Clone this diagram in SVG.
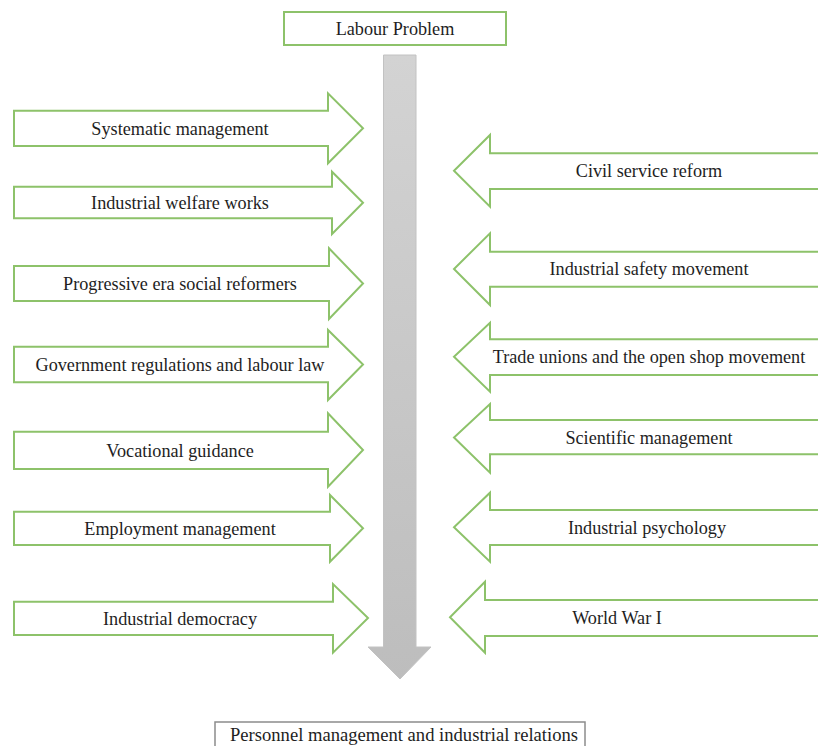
<svg xmlns="http://www.w3.org/2000/svg" width="818" height="746" viewBox="0 0 818 746">
  <defs>
    <linearGradient id="shaftFill" x1="0" y1="0" x2="0" y2="1">
      <stop offset="0" stop-color="#d3d3d3"/>
      <stop offset="1" stop-color="#bdbdbd"/>
    </linearGradient>
  </defs>
  <style>
    .box { fill: #ffffff; stroke: #8dc26a; stroke-width: 2; }
    .outbox { fill: #ffffff; stroke: #8c8c8c; stroke-width: 1.5; }
    .arrow { fill: #ffffff; stroke: #8dc26a; stroke-width: 2; stroke-linejoin: miter; }
    .lbl { font-family: "Liberation Serif", "Times New Roman", serif; font-size: 18.2px; fill: #1e1e1e; text-anchor: middle; }
    .big { font-size: 18.6px; }
  </style>
  <rect width="818" height="746" fill="#ffffff"/>

  <!-- main downward flow arrow -->
  <g id="connectors">
    <path d="M383.5,55 H416 V647 H431 L400,679 L368,647 H383.5 Z" fill="url(#shaftFill)" stroke="#c2c2c2" stroke-width="1"/>
  </g>

  <g id="labour-problem">
    <rect class="box" x="284" y="12" width="222" height="33"/>
    <text class="lbl" x="395" y="35">Labour Problem</text>
  </g>

  <!-- left-side influences, pointing right -->
  <g id="systematic-management">
    <path class="arrow" d="M14,110.7 H328 V93.3 L363,128.3 L328,163.3 V146 H14 Z"/>
    <text class="lbl" x="180" y="134.5">Systematic management</text>
  </g>
  <g id="industrial-welfare-works">
    <path class="arrow" d="M14,186.7 H332 V171.7 L363,202.7 L332,234 V218.3 H14 Z"/>
    <text class="lbl" x="180" y="208.5">Industrial welfare works</text>
  </g>
  <g id="progressive-era">
    <path class="arrow" d="M14,266 H329 V248.3 L363,283.5 L329,319 V301 H14 Z"/>
    <text class="lbl" x="180" y="289.5">Progressive era social reformers</text>
  </g>
  <g id="government-regulations">
    <path class="arrow" d="M14,346.7 H328 V330 L363,364.5 L328,400 V382.3 H14 Z"/>
    <text class="lbl" x="180" y="370.5">Government regulations and labour law</text>
  </g>
  <g id="vocational-guidance">
    <path class="arrow" d="M14,431.7 H328 V413.3 L363,450 L328,486.7 V469 H14 Z"/>
    <text class="lbl" x="180" y="456.5">Vocational guidance</text>
  </g>
  <g id="employment-management">
    <path class="arrow" d="M14,511.7 H330 V495 L363,528.3 L330,561.7 V545 H14 Z"/>
    <text class="lbl" x="180" y="534.5">Employment management</text>
  </g>
  <g id="industrial-democracy">
    <path class="arrow" d="M14,601.7 H333 V584 L368,618 L333,652.7 V635 H14 Z"/>
    <text class="lbl" x="180" y="624.5">Industrial democracy</text>
  </g>

  <!-- right-side influences, pointing left -->
  <g id="civil-service-reform">
    <path class="arrow" d="M830,153.3 H490 V135 L454,170.7 L490,206.7 V189 H830"/>
    <text class="lbl" x="649" y="177">Civil service reform</text>
  </g>
  <g id="industrial-safety-movement">
    <path class="arrow" d="M830,251.7 H490 V233.3 L454,269 L490,305 V286.7 H830"/>
    <text class="lbl" x="649" y="275">Industrial safety movement</text>
  </g>
  <g id="trade-unions">
    <path class="arrow" d="M830,339.3 H490 V322.7 L454,356.7 L490,391.7 V375 H830"/>
    <text class="lbl" x="649" y="363">Trade unions and the open shop movement</text>
  </g>
  <g id="scientific-management">
    <path class="arrow" d="M830,420 H490 V404 L454,437.5 L490,472.7 V454.3 H830"/>
    <text class="lbl" x="649" y="443.5">Scientific management</text>
  </g>
  <g id="industrial-psychology">
    <path class="arrow" d="M830,510 H490 V492.7 L454,527.3 L490,561.7 V545 H830"/>
    <text class="lbl" x="647" y="533.5">Industrial psychology</text>
  </g>
  <g id="world-war-i">
    <path class="arrow" d="M830,600 H485 V581.7 L450,617.3 L485,652.7 V636 H830"/>
    <text class="lbl" x="617" y="624">World War I</text>
  </g>

  <g id="personnel-management">
    <rect class="outbox" x="215" y="722" width="370" height="40"/>
    <text class="lbl big" x="404" y="741">Personnel management and industrial relations</text>
  </g>
</svg>
